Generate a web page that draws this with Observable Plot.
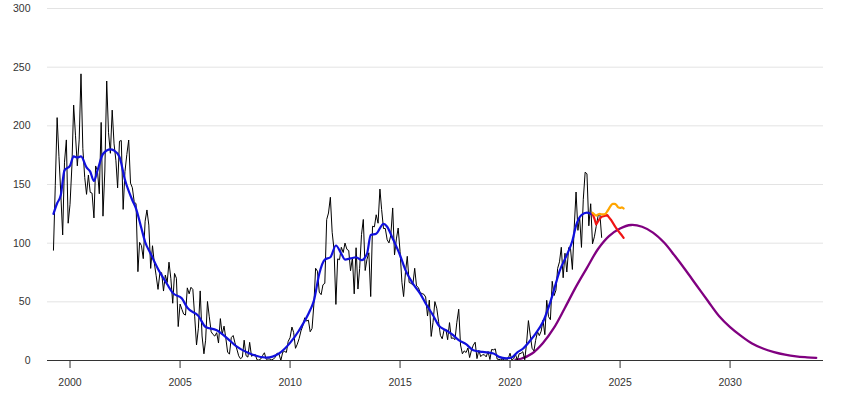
<!DOCTYPE html>
<html>
<head>
<meta charset="utf-8">
<script src="https://cdn.jsdelivr.net/npm/d3@7"></script>
<script src="https://cdn.jsdelivr.net/npm/@observablehq/plot@0.6"></script>
<style>
  html, body { margin: 0; padding: 0; background: #fff; }
  #chart svg { display: block; }
</style>
</head>
<body>
<div id="chart"></div>
<script>
// Monthly mean sunspot number, starting April 1999 (one value per month)
const monthlyStart = "1999-04";
const monthlySSN = [
  94, 149, 207, 174, 142, 107, 169, 188, 117,
  133.1, 165.7, 217.7, 191.5, 165.9, 188.0, 244.3, 180.5, 156.0, 141.6, 158.1, 143.3,
  142.6, 121.5, 165.8, 161.7, 142.1, 202.9, 123.0, 161.5, 238.2, 194.1, 176.6, 213.4,
  184.6, 170.2, 147.1, 186.9, 187.5, 128.8, 161.0, 175.6, 187.9, 151.2, 147.2, 135.3,
  133.5, 75.7, 100.7, 97.9, 86.8, 118.7, 128.3, 115.4, 78.5, 97.8, 82.9, 72.2,
  60.6, 74.6, 74.8, 59.2, 72.8, 66.5, 83.8, 69.7, 48.8, 74.2, 70.1, 28.9,
  48.1, 43.5, 39.6, 38.7, 61.9, 56.8, 62.4, 60.5, 37.2, 13.2, 27.5, 59.3,
  20.9, 5.7, 17.3, 50.3, 37.2, 24.5, 22.2, 20.8, 23.7, 14.9, 35.7, 22.3,
  29.3, 18.4, 7.2, 5.4, 19.5, 21.3, 15.1, 9.8, 4.0, 1.5, 2.8, 17.3,
  4.1, 2.9, 15.5, 3.6, 4.6, 5.2, 0.6, 0.3, 1.2, 4.2, 6.6, 1.0,
  1.3, 1.2, 0.6, 1.2, 2.9, 6.3, 5.5, 0.0, 7.1, 7.7, 6.9, 16.3,
  19.5, 28.5, 24.0, 10.4, 13.9, 18.8, 25.2, 29.6, 36.4, 33.6, 34.4, 24.5,
  27.3, 48.3, 78.6, 76.1, 58.2, 56.1, 64.5, 65.8, 120.1, 125.7, 139.1, 109.3,
  94.4, 47.8, 86.6, 85.9, 96.5, 92.0, 100.1, 94.8, 93.7, 76.5, 87.6, 56.8,
  96.1, 60.9, 78.3, 107.3, 120.2, 76.7, 86.2, 91.8, 54.5, 114.4, 113.9, 124.2,
  117.0, 146.1, 128.7, 112.5, 112.5, 102.9, 100.2, 106.9, 130.0, 90.0, 103.6, 112.9,
  93.0, 66.7, 54.5, 75.3, 88.8, 66.5, 65.8, 64.4, 78.6, 63.6, 62.2, 58.0,
  57.0, 56.4, 54.1, 37.9, 51.5, 20.5, 32.4, 50.2, 44.6, 33.4, 21.4, 18.5,
  26.1, 26.4, 17.7, 32.3, 18.9, 19.2, 17.8, 32.6, 43.7, 13.2, 5.7, 8.2,
  6.8, 10.7, 2.5, 8.9, 13.1, 15.6, 1.6, 8.7, 3.3, 4.9, 4.9, 3.1,
  7.7, 0.8, 9.4, 9.1, 9.9, 1.2, 0.9, 0.5, 1.1, 0.4, 0.5, 1.5,
  6.2, 0.2, 1.5, 5.2, 0.2, 5.8, 6.1, 7.5, 0.6, 14.4, 34.0, 21.8,
  10.4, 8.2, 17.2, 24.5, 21.2, 25.0, 34.3, 22.0, 51.3, 37.4, 34.8, 67.5,
  55.3, 59.9, 78.5, 84.1, 96.5, 70.5, 91.4, 75.4, 96.3, 95.4, 77.6, 113.1,
  143.6, 110.9, 122.6, 96.4, 137.4, 160.5, 159.1, 114.8, 133.6, 99.4, 105.4, 114.2,
  123.0, 124.7, 104.9
];

// Smoothed sunspot number (blue)
const smoothDates = ["1999-04","1999-06","1999-08","1999-10","2000-01","2000-03","2000-05","2000-07","2000-10","2000-12",
  "2001-02","2001-04","2001-07","2001-11","2002-01","2002-04","2002-07","2002-11","2003-01","2003-04",
  "2003-06","2003-09","2004-01","2004-06","2004-09","2005-02","2005-05","2005-11","2006-03","2006-09",
  "2007-03","2007-07","2008-03","2008-12","2009-07","2010-01","2010-06","2010-12","2011-02","2011-05",
  "2011-08","2011-11","2012-02","2012-05","2012-07","2012-10","2013-01","2013-04","2013-07","2013-09",
  "2013-12","2014-04","2014-06","2014-09","2015-01","2015-04","2015-08","2015-12","2016-03","2016-07",
  "2016-10","2017-02","2017-06","2017-09","2018-01","2018-05","2018-10","2019-04","2019-07","2019-11",
  "2020-02","2020-05","2020-08","2020-12","2021-03","2021-07","2021-11","2022-02","2022-04","2022-08",
  "2022-11","2023-01","2023-04","2023-07","2023-10"];
const smoothValues = [125, 134, 141, 162, 166, 174, 173, 174, 164.5, 161,
  153, 162, 176, 180, 179, 173.5, 154, 136.6, 129.5, 112.5,
  101, 91, 78, 65, 57.6, 52.8, 45, 38, 28.6, 25.8,
  18.7, 13, 6, 2.5, 6, 15, 25.8, 43, 51, 74,
  86, 88, 98, 91, 86, 87, 88, 85.5, 91, 107,
  108, 116.5, 114, 104, 89.7, 77, 65.6, 57, 48.6, 38.6,
  30, 25.8, 21.6, 17.3, 13.9, 8.8, 7.3, 6, 3.1, 1.8,
  2.6, 7, 10, 17, 23, 33, 50, 66, 76, 90,
  102, 115, 124, 126, 124.5];

// Two short-range forecasts (red, orange)
const forecastDates = ["2023-10","2023-11","2023-12","2024-01","2024-02","2024-03","2024-04","2024-05","2024-06",
  "2024-07","2024-08","2024-09","2024-10","2024-11","2024-12","2025-01","2025-02","2025-03"];
const redValues = [125, 121, 116, 118.5, 121, 122.5, 123, 123.5, 124, 122, 120, 117.5, 115, 112.5, 110.5, 108.5, 106.5, 104.5];
const orangeValues = [126, 124.5, 123.5, 124.5, 125, 124.5, 124.5, 125, 127, 129.5, 132, 133.5, 133.5, 132.5, 130.5, 130, 130.5, 129.5];

// Panel prediction (purple)
const predDates = ["2020-04","2020-07","2021-01","2021-07","2022-01","2022-07","2023-01","2023-07","2024-01","2024-07",
  "2025-01","2025-07","2026-01","2026-07","2027-01","2027-07","2028-01","2028-07","2029-01","2029-07",
  "2030-01","2030-07","2031-01","2031-07","2032-01","2032-07","2033-01","2033-07","2033-12"];
const predValues = [0.8, 1.5, 6, 15, 28, 45, 63, 79, 95, 106,
  112.5, 115.5, 114, 109, 100.5, 89, 76.5, 63.5, 50.5, 38,
  28.5, 21, 14.5, 10.2, 7.2, 5, 3.5, 2.7, 2.2];

const xTickYears = [2000, 2005, 2010, 2015, 2020, 2025, 2030];
const yTicks = [0, 50, 100, 150, 200, 250, 300];

const parseMonth = s => { const [y, m] = s.split("-").map(Number); return new Date(Date.UTC(y, m - 1, 1)); };
const start = parseMonth(monthlyStart);
const monthly = monthlySSN.map((v, i) => ({date: new Date(Date.UTC(start.getUTCFullYear(), start.getUTCMonth() + i, 1)), value: v}));
const smooth = smoothDates.map((d, i) => ({date: parseMonth(d), value: smoothValues[i]}));
const red = forecastDates.map((d, i) => ({date: parseMonth(d), value: redValues[i]}));
const orange = forecastDates.map((d, i) => ({date: parseMonth(d), value: orangeValues[i]}));
const pred = predDates.map((d, i) => ({date: parseMonth(d), value: predValues[i]}));

const chart = Plot.plot({
  width: 847,
  height: 393,
  marginLeft: 47,
  marginRight: 24,
  marginTop: 8,
  marginBottom: 33,
  style: {fontFamily: "'Liberation Sans', Arial, sans-serif", fontSize: "10.5px", color: "#333", background: "#fff"},
  x: {
    type: "utc",
    domain: [new Date(Date.UTC(1998, 11, 23)), new Date(Date.UTC(2034, 3, 1))],
    ticks: xTickYears.map(y => new Date(Date.UTC(y, 0, 1))),
    tickFormat: d3.utcFormat("%Y"),
    tickSize: 8,
    tickPadding: 10,
    label: null
  },
  y: {
    domain: [0, 300],
    ticks: yTicks,
    tickSize: 0,
    tickPadding: 17,
    label: null
  },
  marks: [
    Plot.ruleY(yTicks.filter(d => d > 0), {stroke: "#e3e3e3", strokeWidth: 1}),
    Plot.line(pred, {x: "date", y: "value", stroke: "#800080", strokeWidth: 2.3, curve: "catmull-rom"}),
    Plot.line(monthly, {x: "date", y: "value", stroke: "#000", strokeWidth: 1}),
    Plot.line(smooth, {x: "date", y: "value", stroke: "#1010dd", strokeWidth: 2.2, curve: "monotone-x"}),
    Plot.line(red, {x: "date", y: "value", stroke: "#f01414", strokeWidth: 2.2}),
    Plot.line(orange, {x: "date", y: "value", stroke: "#ffa500", strokeWidth: 2.2, curve: "monotone-x"}),
    Plot.ruleY([0], {stroke: "#333", strokeWidth: 1.2})
  ]
});
document.getElementById("chart").appendChild(chart);
</script>
</body>
</html>
